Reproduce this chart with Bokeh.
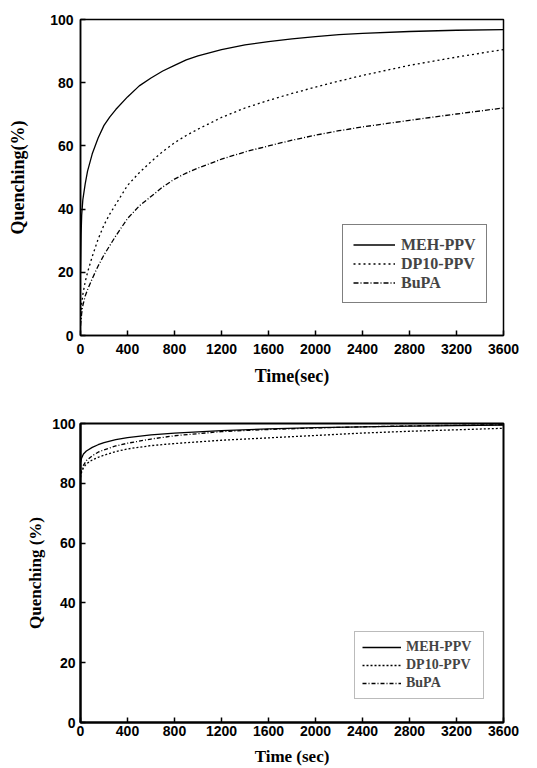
from bokeh.plotting import figure
from bokeh.models import Range1d, FixedTicker, Legend, LegendItem
from bokeh.layouts import column
from bokeh.embed import file_html
from bokeh.resources import INLINE

# ---------------- data: top panel ----------------
t_top = [0, 5, 10, 20, 40, 60, 100, 150, 200, 250, 300, 400, 500, 600, 700, 800,
         900, 1000, 1200, 1400, 1600, 1800, 2000, 2200, 2400, 2800, 3200, 3600]
meh_top = [20, 32, 38, 43, 48, 52, 57.5, 62.5, 66.5, 69.2, 71.5, 75.5, 79, 81.5, 83.7, 85.5,
           87.2, 88.5, 90.5, 92, 93, 93.9, 94.6, 95.2, 95.6, 96.2, 96.6, 96.8]
dp10_top = [5, 7.5, 10, 13, 17, 20, 25, 30.5, 35, 38.5, 41.5, 47.5, 51.5, 55, 58.2, 61,
            63.3, 65.3, 69, 72, 74.4, 76.6, 78.6, 80.5, 82.3, 85.5, 88.1, 90.5]
bupa_top = [3, 5, 7, 9.5, 12.5, 14.5, 18, 22, 25.5, 28.5, 31.5, 37, 41, 44, 47, 49.5,
            51.4, 53, 55.8, 58.1, 60, 61.8, 63.4, 64.8, 66, 68.1, 70.1, 72]

# ---------------- data: bottom panel ----------------
t_bot = [0, 10, 25, 50, 100, 150, 200, 300, 400, 600, 800, 1200, 1600,
         2000, 2400, 2800, 3200, 3600]
meh_bot = [87, 88.5, 89.8, 90.8, 92, 92.9, 93.6, 94.6, 95.3, 96.2, 96.8,
           97.6, 98.2, 98.6, 98.9, 99.1, 99.3, 99.5]
dp10_bot = [82, 83.8, 85.2, 86.5, 87.8, 88.7, 89.4, 90.6, 91.5, 92.6, 93.3,
            94.4, 95.2, 96.0, 96.8, 97.4, 97.9, 98.4]
bupa_bot = [83, 84.5, 86, 87.6, 89.2, 90.4, 91.2, 92.5, 93.4, 94.8, 95.9,
            97.3, 98.0, 98.5, 98.9, 99.2, 99.4, 99.6]

series_names = ["MEH-PPV", "DP10-PPV", "BuPA"]
x_ticks = [0, 400, 800, 1200, 1600, 2000, 2400, 2800, 3200, 3600]
y_ticks = [0, 20, 40, 60, 80, 100]

TICK_FONT = "Liberation Sans"
LABEL_FONT = "Liberation Serif"


def make_panel(height, borders, xlabel, ylabel, t, ys, dashes, tick_standoffs,
               label_standoffs, label_size, legend_loc, legend_opts, outline_w):
    bl, br, bt, bb = borders
    p = figure(width=537, height=height, output_backend="svg", toolbar_location=None,
               x_range=Range1d(0, 3600), y_range=Range1d(0, 100),
               min_border_left=bl, min_border_right=br, min_border_top=bt,
               min_border_bottom=bb)
    p.grid.visible = False
    p.outline_line_color = "black"
    p.outline_line_width = outline_w
    p.xaxis.ticker = FixedTicker(ticks=x_ticks)
    p.yaxis.ticker = FixedTicker(ticks=y_ticks)
    for ax, so, lso in ((p.xaxis, tick_standoffs[0], label_standoffs[0]),
                        (p.yaxis, tick_standoffs[1], label_standoffs[1])):
        ax.axis_line_color = "black"
        ax.axis_line_width = outline_w
        ax.major_tick_in = 5
        ax.major_tick_out = 0
        ax.major_tick_line_width = 1.5
        ax.major_tick_line_color = "black"
        ax.minor_tick_line_color = None
        ax.major_label_text_font = TICK_FONT
        ax.major_label_text_font_style = "bold"
        ax.major_label_text_font_size = "14px"
        ax.major_label_text_color = "black"
        ax.major_label_standoff = so
        ax.axis_label_text_font = LABEL_FONT
        ax.axis_label_text_font_style = "bold"
        ax.axis_label_text_font_size = label_size
        ax.axis_label_text_color = "black"
        ax.axis_label_standoff = lso
    p.xaxis.axis_label = xlabel
    p.yaxis.axis_label = ylabel

    items = []
    for name, y, dash in zip(series_names, ys, dashes):
        r = p.line(t, y, line_color="black", line_width=1.3, line_dash=dash)
        items.append(LegendItem(label=name, renderers=[r]))
    legend = Legend(items=items, location=legend_loc, margin=0,
                    label_text_font=LABEL_FONT, label_text_font_style="bold",
                    background_fill_color="white", background_fill_alpha=1.0,
                    **legend_opts)
    p.add_layout(legend)
    return p


p1 = make_panel(
    388, (79, 34, 19, 52), "Time(sec)", "Quenching(%)",
    t_top, [meh_top, dp10_top, bupa_top], ["solid", "2 3", "5 2 1 2"],
    (8, 7), (9, 19), "18px", (262, 32),
    dict(label_text_font_size="16px", border_line_color="black", border_line_width=1,
         padding=10, spacing=0, glyph_width=42, glyph_height=19, label_height=19,
         label_width=75, label_standoff=6), 1.5)

p2 = make_panel(
    380, (80, 32, 35, 46), "Time (sec)", "Quenching (%)",
    t_bot, [meh_bot, dp10_bot, bupa_bot], ["solid", "2 2", "4 2 1 2"],
    (3, 5), (8, 4), "17px", (274, 23),
    dict(label_text_font_size="14px", border_line_color="#777777", border_line_width=1,
         padding=7, spacing=2, glyph_width=39, glyph_height=16, label_height=16,
         label_width=70, label_standoff=5), 2)

layout = column(p1, p2, spacing=0)
open("out.html", "w").write(file_html(layout, INLINE))
